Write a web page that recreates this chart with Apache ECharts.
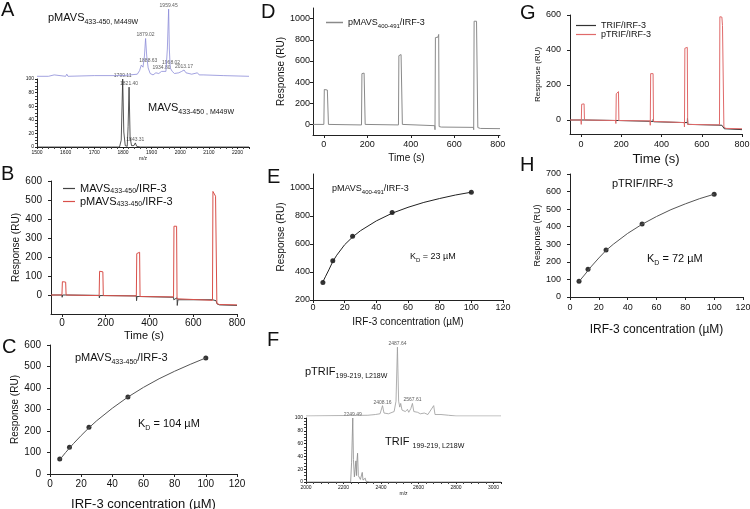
<!DOCTYPE html>
<html>
<head>
<meta charset="utf-8">
<script src="https://cdn.jsdelivr.net/npm/echarts@6/dist/echarts.min.js"></script>
<style>
html,body{margin:0;padding:0;background:#fff;}
#main{width:750px;height:509px;}
</style>
</head>
<body>
<div id="main"></div>
<script>
var FONT = "'Liberation Sans', Arial, sans-serif";

// ---------- A : MALDI spectra (m/z, % intensity) ----------
var aMavs = [[1500,0],[1788,0],[1794,10],[1799.11,100],[1803,22],[1808,2],[1815,1],[1818,30],[1821.4,88],[1825,14],[1830,2],[1838,2],[1843.31,6],[1848,1],[1860,0],[2240,0]];
var aPMavs = [[1500,1],[1540,1],[1560,3],[1564,1],[1600,1],[1604,4],[1608,1],[1700,2],[1800,2],[1850,4],[1858,9],[1864,17],[1870,14],[1875,30],[1879.02,55],[1883,30],[1888,13],[1895,5],[1905,3],[1915,6],[1925,5],[1934.8,8],[1940,6],[1950,8],[1955,40],[1959.45,97],[1962,40],[1965,13],[1968.02,15],[1972,8],[1980,5],[1995,6],[2005,8],[2013.17,10],[2020,6],[2040,4],[2060,6],[2066,3],[2080,3],[2150,2],[2240,1]];
var aMavsPeaks = [[1799.11,100],[1821.4,88],[1843.31,6]];
var aPMavsPeaks = [[1959.45,97],[1879.02,55],[1888.63,18],[1934.8,8],[1968.02,15],[2013.17,10]];

// ---------- F : MALDI spectra ----------
var fTrif = [[2000,0],[2238,0],[2243,30],[2249.49,100],[2253,35],[2258,8],[2262,20],[2266,33],[2269,10],[2271,30],[2275,45],[2279,10],[2290,4],[2300,15],[2304,3],[2316,6],[2320,1],[2340,0],[3040,0]];
var fPTrif = [[2000,0],[2330,1],[2370,2],[2395,3],[2408.16,14],[2416,4],[2440,3],[2470,6],[2480,20],[2487.64,93],[2494,20],[2500,12],[2505,17],[2512,8],[2530,6],[2541,9],[2548,5],[2559,10],[2567.61,17],[2575,6],[2595,5],[2610,3],[2631,4],[2650,2],[2681,14],[2688,2],[2720,2],[2729,3],[2760,1],[2800,0],[3040,0]];
var fTrifPeaks = [[2249.49,100]];
var fPTrifPeaks = [[2487.64,93],[2408.16,14],[2567.61,17]];

// ---------- B : SPR sensorgram (time s, RU) ----------
var bMavs = [[-50,0],[0,0],[1,-12],[3,0],[18,0],[19,8],[21,0],[170,-2],[171,-15],[173,-3],[188,-3],[189,-12],[191,-5],[340,-5],[341,-30],[343,-8],[356,-8],[357,-18],[359,-10],[510,-12],[511,-25],[513,-15],[526,-15],[527,-55],[530,-25],[688,-25],[690,-28],[704,-30],[710,-48],[720,-52],[800,-55]];
var bPMavs = [[-50,0],[0,0],[2,70],[5,68],[17,68],[19,0],[22,-2],[170,-3],[172,125],[175,122],[187,122],[189,-3],[340,-5],[342,218],[350,218],[355,225],[357,-8],[510,-10],[512,362],[524,362],[526,-20],[530,-25],[688,-28],[690,545],[699,540],[702,520],[708,-45],[720,-50],[800,-52]];

// ---------- D : SPR sensorgram ----------
var dPMavs = [[-50,0],[0,0],[2,330],[5,325],[16,325],[19,332],[21,0],[25,-5],[173,-5],[175,480],[185,485],[188,495],[190,0],[193,-5],[343,-5],[345,650],[355,660],[359,650],[361,0],[370,-10],[510,-12],[511,-50],[513,820],[525,825],[528,850],[530,-20],[540,-25],[688,-28],[689,-50],[691,975],[702,975],[705,990],[708,-30],[720,-38],[810,-40]];

// ---------- G : SPR sensorgram ----------
var gTrif = [[-55,0],[0,0],[15,0],[16,8],[18,0],[186,-3],[187,6],[189,-5],[358,-8],[359,5],[361,-10],[528,-15],[529,10],[531,-25],[700,-30],[705,-32],[712,-50],[800,-55]];
var gPTrif = [[-55,0],[0,0],[1,-25],[3,90],[15,92],[17,0],[172,-3],[173,-20],[175,150],[182,158],[186,162],[188,-3],[343,-5],[344,-30],[346,265],[358,265],[360,-8],[513,-15],[514,-40],[516,410],[528,415],[530,-25],[688,-28],[690,590],[700,588],[703,540],[710,-40],[720,-48],[800,-50]];

// ---------- C, E, H : steady-state binding (IRF-3 uM, RU) ----------
var conc = [6.25, 12.5, 25, 50, 100];
var cResp = [70, 125, 218, 358, 540];
var eResp = [325, 480, 655, 825, 970];
var hResp = [90, 158, 268, 415, 585];
var cFit = [[6.25,66],[10,100],[15,141],[20,179],[25,215],[30,248],[40,306],[50,358],[60,403],[70,443],[80,478],[90,510],[100,540]];
var eFit = [[6.25,330],[8,370],[10,415],[12.5,475],[15,520],[20,595],[25,650],[30,695],[40,765],[50,820],[60,862],[70,897],[80,925],[90,950],[100,970]];
var hFit = [[6.25,88],[10,125],[15,176],[20,222],[25,265],[30,300],[40,362],[50,414],[60,458],[70,497],[80,530],[90,560],[100,585]];

var chart = echarts.init(document.getElementById('main'), null, {renderer: 'canvas'});

var sub = {
  n: {fontSize: 11, fontFamily: FONT, color: '#111', lineHeight: 16, verticalAlign: 'middle'},
  s: {fontSize: 7, fontFamily: FONT, color: '#111', lineHeight: 16, verticalAlign: 'bottom'},
  n9: {fontSize: 9, fontFamily: FONT, color: '#111', lineHeight: 13, verticalAlign: 'middle'},
  s9: {fontSize: 6, fontFamily: FONT, color: '#111', lineHeight: 13, verticalAlign: 'bottom'},
  ln: {fontSize: 11, fontFamily: FONT, color: '#111', lineHeight: 13, verticalAlign: 'middle'},
  ls: {fontSize: 7, fontFamily: FONT, color: '#111', lineHeight: 13, verticalAlign: 'bottom'}
};

function grid(l, t, w, h) {
  return {left: l, top: t, width: w, height: h, containLabel: false, outerBoundsMode: 'none'};
}

function plain(v) { return String(v); }

function axis(gi, min, max, interval, fs, o) {
  o = o || {};
  return {
    type: 'value', gridIndex: gi, min: min, max: max, interval: interval,
    show: o.hidden ? false : true,
    name: o.name || '', nameLocation: 'middle', nameGap: o.nameGap || 20,
    nameTextStyle: {fontSize: o.nameSize || 10, fontFamily: FONT, color: '#111'},
    axisLine: {show: true, onZero: false, lineStyle: {color: '#222', width: 1}},
    axisTick: {show: true, length: o.tickLen || 3, lineStyle: {color: '#222'}, customValues: o.ticks},
    minorTick: {show: !!o.minor, splitNumber: o.minor || 5, length: 2, lineStyle: {color: '#444'}},
    axisLabel: {fontSize: fs, fontFamily: FONT, color: '#111', margin: o.margin || 5, customValues: o.ticks,
                showMaxLabel: o.hideMax ? false : null, formatter: plain},
    splitLine: {show: false}
  };
}

function peakLabels(gi, peaks) {
  return {
    type: 'scatter', xAxisIndex: gi, yAxisIndex: gi, data: peaks, symbolSize: 0, silent: true,
    label: {show: true, position: 'top', distance: 1, fontSize: 5, fontFamily: FONT, color: '#333',
            formatter: function (p) { return p.value[0].toFixed(2); }}
  };
}

function lineS(gi, data, color, name, w) {
  return {type: 'line', name: name, xAxisIndex: gi, yAxisIndex: gi, data: data, symbol: 'none',
          lineStyle: {color: color, width: w || 1}, itemStyle: {color: color}, animation: false};
}

function pts(gi, y) {
  return {type: 'scatter', xAxisIndex: gi, yAxisIndex: gi, symbolSize: 5,
          itemStyle: {color: '#000'}, data: conc.map(function (c, i) { return [c, y[i]]; })};
}

function txt(text, left, top, fs) {
  return {text: text, left: left, top: top, padding: 0,
          textStyle: {fontSize: fs || 11, fontWeight: 'normal', fontFamily: FONT, color: '#111', rich: sub}};
}

var option = {
  animation: false,
  backgroundColor: '#fff',
  title: [
    txt('A', 1, 0, 20), txt('B', 1, 164, 20), txt('C', 2, 337, 20), txt('D', 261, 2, 20),
    txt('E', 267, 167, 20), txt('F', 267, 330, 20), txt('G', 520, 3, 20), txt('H', 520, 155, 20),
    txt('{n|pMAVS}{s|433-450, M449W}', 48, 10),
    txt('{n|MAVS}{s|433-450 , M449W}', 148, 100),
    txt('{n|pMAVS}{s|433-450}{n|/IRF-3}', 75, 350),
    txt('{n|K}{s|D}{n| = 104 µM}', 138, 416),
    txt('{n9|pMAVS}{s9|400-491}{n9|/IRF-3}', 332, 182),
    txt('{n9|K}{s9|D}{n9| = 23 µM}', 410, 250),
    txt('{n|pTRIF}{s|199-219, L218W}', 305, 364),
    txt('{n|TRIF }{s|199-219, L218W}', 385, 434),
    txt('{n|pTRIF/IRF-3}', 612, 176),
    txt('{n|K}{s|D}{n| = 72 µM}', 647, 251)
  ],
  legend: [
    {data: ['MAVS433-450/IRF-3', 'pMAVS433-450/IRF-3'], left: 63, top: 183, orient: 'vertical',
     icon: 'rect', itemWidth: 12, itemHeight: 1.2, itemGap: 1, padding: 0,
     textStyle: {rich: sub},
     formatter: function (n) { return n.charAt(0) === 'p' ? '{ln|pMAVS}{ls|433-450}{ln|/IRF-3}' : '{ln|MAVS}{ls|433-450}{ln|/IRF-3}'; }},
    {data: ['pMAVS400-491/IRF-3'], left: 321, top: 13, icon: 'rect', itemWidth: 17, itemHeight: 1.5,
     textStyle: {rich: sub},
     formatter: function () { return '{n9|pMAVS}{s9|400-491}{n9|/IRF-3}'; }},
    {data: ['TRIF/IRF-3', 'pTRIF/IRF-3'], left: 576, top: 21, orient: 'vertical', padding: 0,
     icon: 'rect', itemWidth: 20, itemHeight: 1.2, itemGap: 0,
     textStyle: {fontSize: 9, lineHeight: 9, fontFamily: FONT, color: '#111'}}
  ],
  grid: [
    grid(37, 79, 212, 68),   // 0 A bottom
    grid(37, 7, 212, 70),    // 1 A top
    grid(51, 181, 186, 133), // 2 B
    grid(50, 345, 187, 129), // 3 C
    grid(313, 8, 187, 127),  // 4 D
    grid(313, 174, 190, 126),// 5 E
    grid(306, 418, 195, 64), // 6 F bottom
    grid(306, 342, 195, 74), // 7 F top
    grid(570, 15, 172, 119), // 8 G
    grid(570, 174, 173, 123) // 9 H
  ],
  xAxis: [
    axis(0, 1500, 2240, 100, 5, {name: 'm/z', nameGap: 8, nameSize: 5, minor: 5, margin: 3, tickLen: 2, hideMax: true}),
    axis(1, 1500, 2240, 100, 5, {hidden: true}),
    axis(2, -50, 800, 50, 10, {name: 'Time (s)', nameGap: 16, nameSize: 11, ticks: [0, 200, 400, 600, 800], margin: 4}),
    axis(3, 0, 120, 20, 10, {name: 'IRF-3 concentration (µM)', nameGap: 24, nameSize: 13, margin: 5}),
    axis(4, -50, 810, 50, 9, {name: 'Time (s)', nameGap: 18, nameSize: 10, ticks: [0, 200, 400, 600, 800]}),
    axis(5, 0, 120, 20, 9, {name: 'IRF-3 concentration (µM)', nameGap: 17, nameSize: 10, margin: 3}),
    axis(6, 2000, 3040, 200, 5, {name: 'm/z', nameGap: 8, nameSize: 5, minor: 5, margin: 3, tickLen: 2, hideMax: true}),
    axis(7, 2000, 3040, 200, 5, {hidden: true}),
    axis(8, -55, 800, 5, 9, {name: 'Time (s)', nameGap: 19, nameSize: 13, ticks: [0, 200, 400, 600, 800], margin: 6}),
    axis(9, 0, 120, 20, 9, {name: 'IRF-3 concentration (µM)', nameGap: 27, nameSize: 12, margin: 6})
  ],
  yAxis: [
    axis(0, 0, 100, 20, 5, {minor: 4, margin: 3, tickLen: 2}),
    axis(1, 0, 100, 20, 5, {hidden: true}),
    axis(2, -100, 600, 100, 10, {name: 'Response (RU)', nameGap: 24, nameSize: 10, ticks: [0, 100, 200, 300, 400, 500, 600], margin: 9}),
    axis(3, 0, 600, 100, 10, {name: 'Response (RU)', nameGap: 24, nameSize: 10, margin: 9}),
    axis(4, -100, 1100, 100, 9, {name: 'Response (RU)', nameGap: 27, nameSize: 10, ticks: [0, 200, 400, 600, 800, 1000], margin: 3}),
    axis(5, 200, 1100, 100, 9, {name: 'Response (RU)', nameGap: 27, nameSize: 10, ticks: [200, 400, 600, 800, 1000], margin: 3}),
    axis(6, 0, 100, 20, 5, {minor: 4, margin: 3, tickLen: 2}),
    axis(7, 0, 100, 20, 5, {hidden: true}),
    axis(8, -80, 600, 20, 9, {name: 'Response (RU)', nameGap: 22, nameSize: 8, ticks: [0, 200, 400, 600], margin: 9}),
    axis(9, 0, 700, 100, 9, {name: 'Response (RU)', nameGap: 22, nameSize: 9, margin: 9})
  ],
  series: [
    lineS(0, aMavs, '#2b2b2b', 'aMavs', 0.8),
    lineS(1, aPMavs, '#8c8cd8', 'aPMavs', 0.8),
    peakLabels(0, aMavsPeaks),
    peakLabels(1, aPMavsPeaks),

    lineS(2, bMavs, '#444444', 'MAVS433-450/IRF-3', 1),
    lineS(2, bPMavs, '#d9504a', 'pMAVS433-450/IRF-3', 1),

    lineS(3, cFit, '#555555', 'cFit', 1),
    pts(3, cResp),

    lineS(4, dPMavs, '#8a8a8a', 'pMAVS400-491/IRF-3', 1),

    lineS(5, eFit, '#222222', 'eFit', 1),
    pts(5, eResp),

    lineS(6, fTrif, '#8a8a8a', 'fTrif', 0.8),
    lineS(7, fPTrif, '#9a9a9a', 'fPTrif', 0.8),
    peakLabels(6, fTrifPeaks),
    peakLabels(7, fPTrifPeaks),

    lineS(8, gTrif, '#333333', 'TRIF/IRF-3', 1),
    lineS(8, gPTrif, '#e06a6a', 'pTRIF/IRF-3', 1),

    lineS(9, hFit, '#555555', 'hFit', 1),
    pts(9, hResp)
  ]
};

chart.setOption(option);
window.onresize = function () { chart.resize(); };
</script>
</body>
</html>
